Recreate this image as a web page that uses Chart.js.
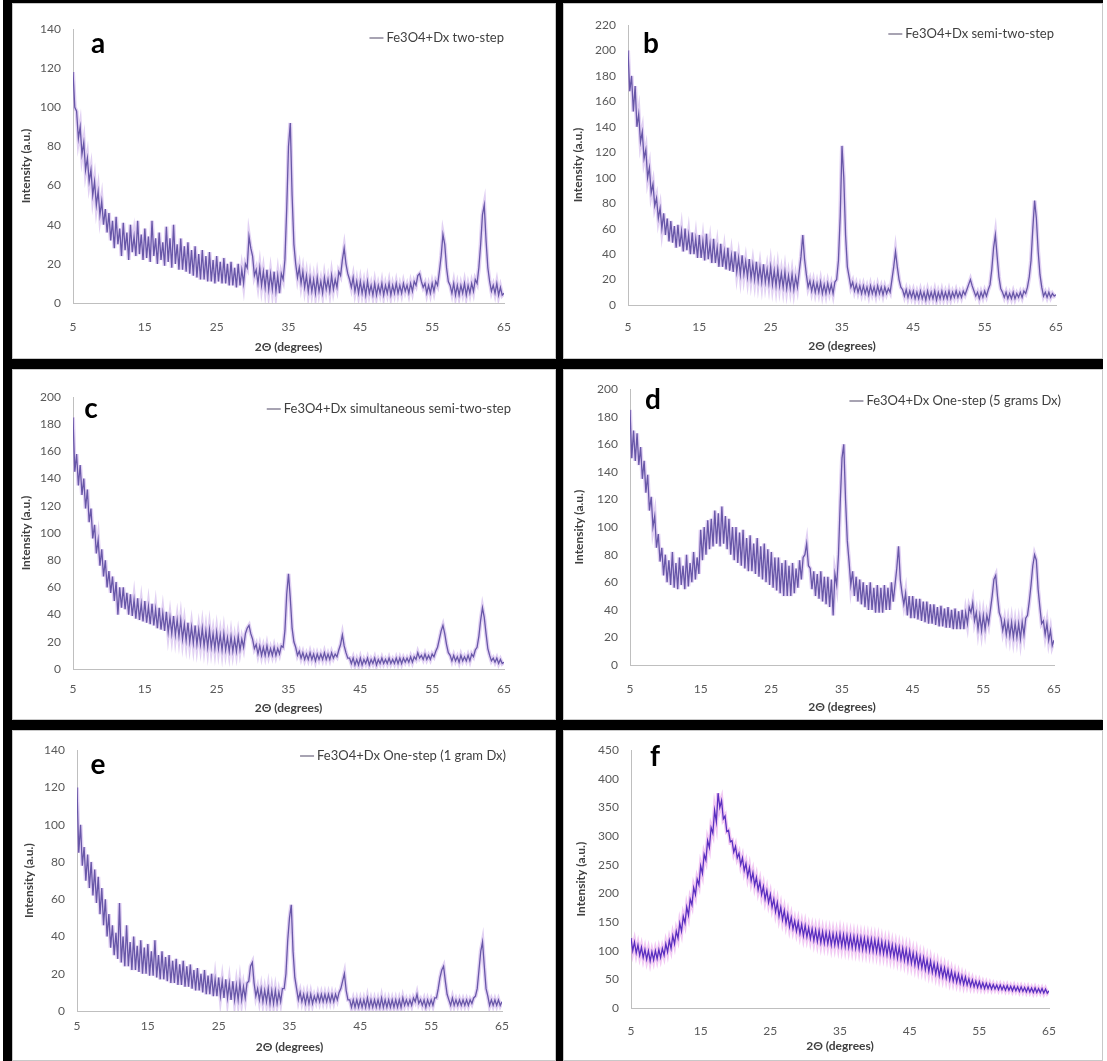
<!DOCTYPE html>
<html>
<head>
<meta charset="utf-8">
<script src="https://cdn.jsdelivr.net/npm/chart.js@4.4.1/dist/chart.umd.min.js"></script>
<style>
    body { margin: 0; background: #fff; }
    #fundo { position: absolute; left: 3px; top: 0; width: 1100px; height: 1061px; background: #000; }
    .painel { position: absolute; background: #fff; border: 1px solid #c8c8c8; box-sizing: border-box; }
</style>
</head>
<body>
<div id="fundo"></div>
<div class="painel" style="left:12px;top:3px;width:544px;height:356px"><canvas id="graficoA"></canvas></div>
<div class="painel" style="left:563px;top:3px;width:540px;height:356px"><canvas id="graficoB"></canvas></div>
<div class="painel" style="left:12px;top:369px;width:544px;height:351px"><canvas id="graficoC"></canvas></div>
<div class="painel" style="left:563px;top:369px;width:540px;height:351px"><canvas id="graficoD"></canvas></div>
<div class="painel" style="left:12px;top:730px;width:544px;height:331px"><canvas id="graficoE"></canvas></div>
<div class="painel" style="left:563px;top:730px;width:540px;height:331px"><canvas id="graficoF"></canvas></div>

<script>
// Ângulos 2θ (graus), uma linha por intervalo de 5 graus
const angulos = [
    5, 5.25, 5.5, 5.75, 6, 6.25, 6.5, 6.75, 7, 7.25, 7.5, 7.75, 8, 8.25, 8.5, 8.75, 9, 9.25, 9.5, 9.75,
    10, 10.25, 10.5, 10.75, 11, 11.25, 11.5, 11.75, 12, 12.25, 12.5, 12.75, 13, 13.25, 13.5, 13.75, 14, 14.25, 14.5, 14.75,
    15, 15.25, 15.5, 15.75, 16, 16.25, 16.5, 16.75, 17, 17.25, 17.5, 17.75, 18, 18.25, 18.5, 18.75, 19, 19.25, 19.5, 19.75,
    20, 20.25, 20.5, 20.75, 21, 21.25, 21.5, 21.75, 22, 22.25, 22.5, 22.75, 23, 23.25, 23.5, 23.75, 24, 24.25, 24.5, 24.75,
    25, 25.25, 25.5, 25.75, 26, 26.25, 26.5, 26.75, 27, 27.25, 27.5, 27.75, 28, 28.25, 28.5, 28.75, 29, 29.25, 29.5, 29.75,
    30, 30.25, 30.5, 30.75, 31, 31.25, 31.5, 31.75, 32, 32.25, 32.5, 32.75, 33, 33.25, 33.5, 33.75, 34, 34.25, 34.5, 34.75,
    35, 35.25, 35.5, 35.75, 36, 36.25, 36.5, 36.75, 37, 37.25, 37.5, 37.75, 38, 38.25, 38.5, 38.75, 39, 39.25, 39.5, 39.75,
    40, 40.25, 40.5, 40.75, 41, 41.25, 41.5, 41.75, 42, 42.25, 42.5, 42.75, 43, 43.25, 43.5, 43.75, 44, 44.25, 44.5, 44.75,
    45, 45.25, 45.5, 45.75, 46, 46.25, 46.5, 46.75, 47, 47.25, 47.5, 47.75, 48, 48.25, 48.5, 48.75, 49, 49.25, 49.5, 49.75,
    50, 50.25, 50.5, 50.75, 51, 51.25, 51.5, 51.75, 52, 52.25, 52.5, 52.75, 53, 53.25, 53.5, 53.75, 54, 54.25, 54.5, 54.75,
    55, 55.25, 55.5, 55.75, 56, 56.25, 56.5, 56.75, 57, 57.25, 57.5, 57.75, 58, 58.25, 58.5, 58.75, 59, 59.25, 59.5, 59.75,
    60, 60.25, 60.5, 60.75, 61, 61.25, 61.5, 61.75, 62, 62.25, 62.5, 62.75, 63, 63.25, 63.5, 63.75, 64, 64.25, 64.5, 64.75,
    65
];

// a - Fe3O4+Dx two-step
const intensidadeA = [
    118, 100, 98, 84, 90, 76, 82, 68, 74, 62, 68, 55, 62, 50, 57, 45, 52, 40, 48, 36,
    46, 32, 42, 28, 44, 30, 38, 24, 41, 27, 36, 22, 40, 26, 34, 24, 42, 25, 35, 22,
    38, 23, 34, 21, 42, 24, 33, 20, 36, 22, 31, 19, 39, 21, 33, 18, 40, 20, 30, 17,
    33, 17, 29, 16, 31, 15, 27, 14, 29, 13, 25, 12, 27, 12, 24, 11, 26, 11, 22, 10,
    24, 11, 21, 10, 23, 10, 20, 9, 21, 9, 18, 8, 20, 9, 17, 10, 20, 18, 34, 28,
    24, 14, 17, 10, 18, 9, 16, 8, 17, 7, 15, 7, 16, 6, 14, 5, 15, 12, 22, 48,
    80, 92, 55, 30, 20, 13, 18, 10, 16, 8, 14, 6, 13, 6, 12, 5, 13, 6, 11, 5,
    13, 7, 12, 6, 14, 7, 12, 8, 16, 14, 22, 28, 20, 15, 12, 8, 13, 6, 11, 5,
    11, 5, 10, 4, 11, 5, 9, 4, 10, 4, 9, 5, 10, 4, 9, 5, 10, 4, 9, 5,
    10, 5, 9, 5, 10, 6, 9, 5, 10, 6, 11, 9, 14, 15, 11, 8, 10, 5, 9, 5,
    10, 6, 11, 9, 16, 24, 35, 30, 18, 11, 9, 5, 10, 4, 9, 4, 9, 5, 10, 4,
    9, 5, 10, 6, 12, 10, 18, 30, 45, 50, 32, 18, 11, 6, 9, 5, 10, 4, 8, 4,
    5
];

// b - Fe3O4+Dx semi-two-step
const intensidadeB = [
    200, 168, 180, 152, 172, 140, 150, 128, 136, 115, 122, 100, 108, 88, 95, 78, 84, 68, 76, 60,
    72, 55, 68, 50, 66, 49, 62, 45, 63, 46, 58, 42, 60, 43, 55, 40, 57, 40, 52, 37,
    55, 37, 50, 35, 56, 36, 48, 33, 52, 33, 45, 30, 48, 30, 42, 28, 45, 27, 39, 26,
    42, 26, 37, 24, 39, 24, 34, 22, 36, 21, 32, 20, 34, 19, 30, 18, 32, 18, 28, 17,
    30, 16, 27, 15, 28, 15, 25, 14, 26, 13, 23, 13, 24, 12, 22, 14, 26, 38, 55, 36,
    24, 14, 19, 11, 18, 10, 17, 10, 18, 9, 16, 9, 17, 10, 16, 9, 18, 20, 35, 70,
    125, 100, 55, 30, 22, 14, 18, 11, 16, 10, 15, 9, 15, 9, 14, 8, 15, 9, 14, 8,
    15, 9, 14, 8, 14, 9, 13, 10, 20, 30, 42, 30, 20, 14, 12, 7, 12, 6, 11, 6,
    11, 5, 10, 5, 11, 5, 10, 4, 11, 5, 10, 5, 11, 4, 10, 5, 11, 5, 10, 5,
    11, 5, 10, 6, 11, 6, 10, 6, 11, 8, 12, 16, 20, 15, 11, 7, 10, 5, 10, 6,
    11, 7, 12, 16, 28, 45, 55, 38, 22, 13, 10, 6, 10, 5, 9, 5, 10, 5, 9, 6,
    10, 6, 11, 9, 14, 22, 35, 60, 82, 68, 42, 24, 14, 7, 10, 6, 10, 6, 9, 7,
    8
];

// c - Fe3O4+Dx simultaneous semi-two-step
const intensidadeC = [
    185, 145, 158, 135, 150, 128, 140, 118, 132, 108, 118, 96, 106, 85, 95, 76, 88, 68, 80, 60,
    72, 56, 68, 50, 64, 40, 60, 45, 60, 44, 56, 40, 55, 39, 51, 37, 52, 36, 48, 35,
    50, 34, 46, 33, 48, 32, 44, 30, 45, 29, 41, 28, 42, 27, 38, 26, 39, 25, 36, 24,
    36, 22, 33, 21, 34, 20, 31, 19, 32, 18, 29, 18, 30, 17, 28, 16, 29, 16, 26, 15,
    27, 15, 25, 14, 26, 14, 23, 13, 24, 13, 22, 13, 24, 14, 22, 16, 26, 30, 32, 26,
    22, 15, 18, 11, 17, 10, 16, 10, 17, 10, 15, 10, 16, 10, 15, 11, 17, 16, 28, 55,
    70, 52, 30, 20, 16, 10, 13, 8, 12, 7, 11, 7, 12, 7, 11, 6, 11, 7, 11, 7,
    12, 7, 11, 7, 12, 8, 11, 9, 14, 18, 25, 17, 12, 8, 8, 4, 8, 3, 7, 3,
    8, 3, 7, 4, 8, 3, 7, 4, 8, 3, 7, 4, 8, 4, 7, 4, 8, 4, 7, 4,
    8, 4, 8, 4, 8, 5, 8, 5, 9, 5, 9, 7, 12, 8, 10, 7, 11, 7, 10, 7,
    11, 9, 13, 16, 22, 28, 32, 26, 18, 12, 10, 6, 10, 6, 9, 5, 10, 6, 9, 6,
    10, 6, 11, 9, 14, 16, 24, 36, 45, 38, 26, 15, 10, 6, 8, 5, 8, 4, 7, 4,
    5
];

// d - Fe3O4+Dx One-step (5 grams Dx)
const intensidadeD = [
    185, 150, 170, 148, 168, 145, 158, 135, 148, 125, 138, 112, 122, 100, 108, 85, 95, 75, 85, 65,
    80, 60, 76, 58, 82, 56, 74, 55, 78, 58, 72, 55, 80, 57, 74, 60, 82, 62, 78, 66,
    98, 76, 100, 80, 105, 84, 106, 86, 112, 88, 110, 86, 115, 88, 108, 84, 106, 80, 100, 76,
    100, 74, 96, 72, 98, 70, 92, 68, 94, 68, 88, 66, 92, 64, 86, 62, 88, 60, 84, 58,
    82, 56, 78, 54, 78, 52, 74, 50, 76, 50, 72, 50, 74, 52, 70, 56, 76, 62, 78, 80,
    88, 72, 70, 55, 68, 50, 66, 48, 68, 46, 64, 44, 64, 42, 62, 36, 66, 58, 80, 118,
    150, 160, 120, 90, 75, 58, 68, 50, 64, 46, 62, 44, 60, 42, 58, 40, 60, 40, 56, 38,
    58, 38, 56, 38, 58, 40, 56, 40, 60, 46, 58, 70, 86, 62, 52, 44, 52, 36, 50, 34,
    50, 34, 48, 33, 48, 32, 46, 31, 46, 30, 44, 30, 44, 29, 42, 28, 43, 28, 41, 27,
    42, 27, 40, 26, 41, 26, 39, 26, 40, 26, 38, 30, 42, 38, 45, 32, 38, 26, 36, 25,
    36, 26, 36, 30, 40, 50, 62, 65, 50, 38, 34, 25, 32, 22, 31, 21, 31, 20, 30, 20,
    30, 19, 31, 22, 34, 36, 46, 58, 72, 80, 76, 55, 42, 30, 32, 22, 30, 18, 25, 14,
    18
];

// e - Fe3O4+Dx One-step (1 gram Dx)
const intensidadeE = [
    120, 85, 100, 78, 88, 70, 84, 66, 80, 62, 76, 58, 72, 52, 66, 46, 60, 40, 52, 34,
    46, 30, 42, 28, 58, 26, 40, 24, 46, 24, 37, 22, 40, 22, 35, 21, 38, 20, 34, 20,
    36, 19, 32, 19, 38, 18, 30, 17, 32, 17, 29, 16, 30, 15, 27, 15, 28, 14, 25, 14,
    27, 13, 24, 13, 25, 12, 22, 11, 23, 11, 20, 10, 22, 9, 19, 9, 20, 8, 17, 8,
    18, 8, 16, 7, 17, 7, 15, 6, 16, 6, 14, 6, 15, 6, 13, 7, 15, 16, 24, 26,
    15, 8, 12, 6, 12, 5, 11, 5, 12, 4, 11, 4, 11, 4, 10, 5, 12, 12, 20, 38,
    50, 57, 32, 18, 12, 6, 10, 5, 9, 4, 9, 4, 9, 4, 8, 5, 9, 5, 9, 5,
    9, 5, 9, 5, 9, 5, 9, 6, 10, 12, 16, 20, 11, 6, 6, 2, 6, 2, 6, 2,
    6, 2, 6, 2, 7, 2, 6, 2, 6, 2, 6, 2, 7, 2, 6, 2, 6, 2, 6, 2,
    6, 2, 6, 2, 7, 3, 6, 3, 6, 3, 7, 5, 9, 4, 6, 3, 6, 2, 6, 3,
    6, 3, 7, 7, 12, 18, 22, 24, 16, 9, 6, 3, 7, 3, 6, 3, 6, 3, 6, 3,
    6, 3, 6, 4, 7, 8, 12, 22, 32, 37, 24, 12, 8, 3, 6, 3, 6, 3, 6, 3,
    5
];

// f - sem legenda no original
const intensidadeF = [
    122, 100, 115, 96, 110, 92, 106, 88, 102, 85, 100, 82, 98, 84, 100, 86, 102, 88, 104, 92,
    112, 98, 118, 104, 126, 112, 134, 122, 148, 134, 160, 148, 176, 162, 190, 180, 210, 198, 225, 215,
    248, 235, 268, 258, 292, 280, 315, 305, 345, 325, 375, 350, 362, 330, 335, 308, 310, 290, 292, 272,
    282, 262, 270, 250, 262, 240, 252, 230, 245, 222, 236, 214, 228, 206, 220, 198, 212, 190, 205, 184,
    198, 176, 190, 168, 184, 160, 176, 154, 170, 148, 164, 142, 158, 138, 152, 134, 150, 130, 146, 126,
    144, 124, 140, 121, 138, 118, 136, 116, 135, 114, 133, 113, 132, 112, 131, 110, 130, 110, 129, 109,
    130, 108, 128, 107, 127, 106, 126, 105, 125, 104, 124, 103, 123, 102, 122, 101, 121, 100, 120, 99,
    119, 98, 118, 96, 116, 95, 114, 93, 113, 91, 110, 89, 108, 87, 106, 85, 104, 83, 102, 80,
    100, 78, 96, 75, 94, 72, 90, 70, 88, 67, 84, 64, 82, 62, 78, 59, 76, 56, 72, 54,
    70, 52, 67, 49, 64, 47, 61, 45, 59, 43, 56, 41, 54, 40, 51, 38, 49, 37, 47, 36,
    46, 35, 44, 34, 43, 34, 42, 33, 41, 33, 40, 32, 40, 32, 39, 31, 39, 31, 38, 30,
    38, 30, 37, 29, 37, 29, 36, 28, 36, 28, 35, 27, 35, 27, 34, 27, 34, 26, 33, 26,
    30
];

const fonteBase = 'Lato, "Liberation Sans", sans-serif';

// Plugin para a letra do painel e para a legenda no estilo do Excel
const pluginRotulos = {
    id: 'rotulos',
    afterDraw(chart, args, opts) {
        const ctx = chart.ctx;
        ctx.save();
        ctx.font = 'bold 28px ' + fonteBase;
        ctx.fillStyle = '#000';
        ctx.textAlign = 'center';
        ctx.textBaseline = 'alphabetic';
        ctx.fillText(opts.letra, opts.letraX, opts.letraY);

        if (opts.legenda) {
            ctx.font = '13px ' + fonteBase;
            const largura = ctx.measureText(opts.legenda).width;
            const inicio = opts.legX - largura;
            ctx.fillStyle = '#404040';
            ctx.textAlign = 'left';
            ctx.textBaseline = 'middle';
            ctx.fillText(opts.legenda, inicio, opts.legY);
            ctx.strokeStyle = '#8a8499';
            ctx.lineWidth = 1.5;
            ctx.beginPath();
            ctx.moveTo(inicio - 17, opts.legY);
            ctx.lineTo(inicio - 3, opts.legY);
            ctx.stroke();
        }
        ctx.restore();
    }
};

function juntarPontos(valores) {
    let pontos = [];
    for (let i = 0; i < angulos.length; i++) {
        pontos.push({ x: angulos[i], y: valores[i] });
    }
    return pontos;
}

// Função para plotar um painel de difração
function plotarPainel(id, valores, cfg) {
    const pontos = juntarPontos(valores);
    const config = {
        type: 'line',
        data: {
            datasets: [
                {
                    label: cfg.legenda,
                    data: pontos,
                    borderColor: cfg.cor,
                    borderWidth: 1.3,
                    pointRadius: 0,
                    tension: 0
                },
                {
                    label: 'halo',
                    data: pontos,
                    borderColor: cfg.halo,
                    borderWidth: 4,
                    pointRadius: 0,
                    tension: 0
                }
            ]
        },
        options: {
            animation: false,
            responsive: true,
            maintainAspectRatio: false,
            layout: { padding: { left: cfg.padEsq, right: cfg.padDir, top: cfg.padTopo, bottom: 0 } },
            plugins: {
                legend: { display: false },
                tooltip: { enabled: false },
                rotulos: {
                    letra: cfg.letra, letraX: cfg.letraX, letraY: cfg.letraY,
                    legenda: cfg.legenda, legX: cfg.legX, legY: cfg.legY
                }
            },
            scales: {
                x: {
                    type: 'linear',
                    min: 5,
                    max: 65,
                    ticks: { stepSize: 10, padding: cfg.padTickX, color: '#595959', font: { family: fonteBase, size: 12 } },
                    grid: { display: false, drawTicks: false },
                    border: { display: true, color: '#bfbfbf' },
                    title: {
                        display: true,
                        text: '2Θ (degrees)',
                        color: '#404040',
                        font: { family: fonteBase, size: 12, weight: 'bold' },
                        padding: { top: 0, bottom: cfg.padTituloX }
                    },
                    afterFit: function (escala) { escala.height = cfg.altX; }
                },
                y: {
                    min: 0,
                    max: cfg.maxY,
                    ticks: { stepSize: cfg.passoY, padding: 12, color: '#595959', font: { family: fonteBase, size: 12 } },
                    grid: { display: false, drawTicks: false },
                    border: { display: true, color: '#bfbfbf' },
                    title: {
                        display: true,
                        text: 'Intensity (a.u.)',
                        color: '#404040',
                        font: { family: fonteBase, size: 12, weight: 'bold' },
                        padding: { top: 0, bottom: 0 }
                    },
                    afterFit: function (escala) { escala.width = cfg.largY; }
                }
            }
        },
        plugins: [pluginRotulos]
    };
    return new Chart(document.getElementById(id), config);
}

const corLinha = '#6857a8';
const corHalo = 'rgba(180, 140, 225, 0.4)';

plotarPainel('graficoA', intensidadeA, {
    legenda: 'Fe3O4+Dx two-step', legX: 491, legY: 34, letra: 'a', letraX: 85, letraY: 49,
    maxY: 140, passoY: 20, cor: corLinha, halo: corHalo,
    padEsq: 6, largY: 54, padDir: 51, padTopo: 25, altX: 55, padTickX: 17, padTituloX: 4
});
plotarPainel('graficoB', intensidadeB, {
    legenda: 'Fe3O4+Dx semi-two-step', legX: 490, legY: 30, letra: 'b', letraX: 87, letraY: 49,
    maxY: 220, passoY: 20, cor: corLinha, halo: corHalo,
    padEsq: 7, largY: 57, padDir: 46, padTopo: 21, altX: 53, padTickX: 15, padTituloX: 5
});
plotarPainel('graficoC', intensidadeC, {
    legenda: 'Fe3O4+Dx simultaneous semi-two-step', legX: 498, legY: 39, letra: 'c', letraX: 78, letraY: 48,
    maxY: 200, passoY: 20, cor: corLinha, halo: corHalo,
    padEsq: 6, largY: 54, padDir: 51, padTopo: 27, altX: 50, padTickX: 13, padTituloX: 4
});
plotarPainel('graficoD', intensidadeD, {
    legenda: 'Fe3O4+Dx One-step (5 grams Dx)', legX: 497, legY: 31, letra: 'd', letraX: 89, letraY: 39,
    maxY: 200, passoY: 20, cor: corLinha, halo: corHalo,
    padEsq: 8, largY: 58, padDir: 48, padTopo: 19, altX: 54, padTickX: 17, padTituloX: 5
});
plotarPainel('graficoE', intensidadeE, {
    legenda: 'Fe3O4+Dx One-step (1 gram Dx)', legX: 493, legY: 25, letra: 'e', letraX: 85, letraY: 43,
    maxY: 140, passoY: 20, cor: corLinha, halo: corHalo,
    padEsq: 9, largY: 55, padDir: 53, padTopo: 16, altX: 49, padTickX: 8, padTituloX: 6
});
plotarPainel('graficoF', intensidadeF, {
    legenda: '', legX: 0, legY: 0, letra: 'f', letraX: 91, letraY: 35,
    maxY: 450, passoY: 50, cor: '#5a2fc0', halo: 'rgba(215, 100, 220, 0.35)',
    padEsq: 10, largY: 57, padDir: 53, padTopo: 16, altX: 52, padTickX: 16, padTituloX: 7
});
</script>
</body>
</html>
